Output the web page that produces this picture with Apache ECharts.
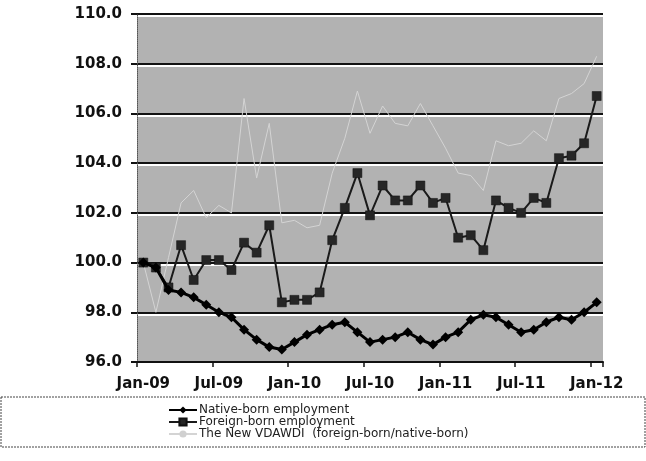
<!DOCTYPE html>
<html>
<head>
<meta charset="utf-8">
<script src="https://cdn.jsdelivr.net/npm/echarts@6/dist/echarts.min.js"></script>
<style>
html,body{margin:0;padding:0;background:#fff;}
#chart{width:646px;height:461px;}
</style>
</head>
<body>
<div id="chart"></div>
<script>
var months = ["Jan-09","Feb-09","Mar-09","Apr-09","May-09","Jun-09","Jul-09","Aug-09","Sep-09","Oct-09","Nov-09","Dec-09",
  "Jan-10","Feb-10","Mar-10","Apr-10","May-10","Jun-10","Jul-10","Aug-10","Sep-10","Oct-10","Nov-10","Dec-10",
  "Jan-11","Feb-11","Mar-11","Apr-11","May-11","Jun-11","Jul-11","Aug-11","Sep-11","Oct-11","Nov-11","Dec-11","Jan-12"];

var nativeBorn = [100.0, 99.8, 98.9, 98.8, 98.6, 98.3, 98.0, 97.8, 97.3, 96.9, 96.6, 96.5,
  96.8, 97.1, 97.3, 97.5, 97.6, 97.2, 96.8, 96.9, 97.0, 97.2, 96.9, 96.7,
  97.0, 97.2, 97.7, 97.9, 97.8, 97.5, 97.2, 97.3, 97.6, 97.8, 97.7, 98.0, 98.4];

var foreignBorn = [100.0, 99.8, 99.0, 100.7, 99.3, 100.1, 100.1, 99.7, 100.8, 100.4, 101.5, 98.4,
  98.5, 98.5, 98.8, 100.9, 102.2, 103.6, 101.9, 103.1, 102.5, 102.5, 103.1, 102.4,
  102.6, 101.0, 101.1, 100.5, 102.5, 102.2, 102.0, 102.6, 102.4, 104.2, 104.3, 104.8, 106.7];

var vdawdi = [100.0, 98.0, 100.2, 102.4, 102.9, 101.8, 102.3, 102.0, 106.6, 103.4, 105.6, 101.6,
  101.7, 101.4, 101.5, 103.6, 105.0, 106.9, 105.2, 106.3, 105.6, 105.5, 106.4, 105.5,
  104.6, 103.6, 103.5, 102.9, 104.9, 104.7, 104.8, 105.3, 104.9, 106.6, 106.8, 107.2, 108.3];

var seriesNames = ["Native-born employment", "Foreign-born employment", "The New VDAWDI  (foreign-born/native-born)"];

var chart = echarts.init(document.getElementById('chart'), null, {renderer: 'canvas'});
var option = {
  animation: false,
  backgroundColor: '#ffffff',
  textStyle: {fontFamily: 'DejaVu Sans'},
  grid: {left: 137, right: 43, top: 14, bottom: 99, show: true, backgroundColor: '#b2b2b2', borderWidth: 0},
  graphic: [{
    type: 'rect',
    z: -1,
    shape: {x: 1, y: 397, width: 644, height: 50},
    style: {fill: '#ffffff', stroke: '#444', lineWidth: 1, lineDash: [2, 1]}
  }],
  legend: {
    orient: 'vertical',
    left: 168,
    top: 404,
    itemWidth: 28,
    itemHeight: 9,
    itemGap: 0,
    padding: 0,
    textStyle: {fontFamily: 'DejaVu Sans', fontSize: 12, lineHeight: 11, color: '#222', padding: [0, 0, 0, -3]},
    data: seriesNames
  },
  xAxis: {
    type: 'category',
    data: months,
    boundaryGap: true,
    axisLine: {lineStyle: {color: '#111', width: 2}},
    axisTick: {show: true, interval: 5, length: 5, lineStyle: {color: '#111', width: 1.5}},
    axisLabel: {interval: 5, margin: 15, color: '#111', fontFamily: 'DejaVu Sans', fontWeight: 'bold', fontSize: 15},
    splitLine: {show: false}
  },
  yAxis: {
    type: 'value',
    min: 96, max: 110, interval: 2,
    axisLine: {show: true, lineStyle: {color: '#555', width: 1, type: 'dotted'}},
    axisTick: {show: true, length: 6, lineStyle: {color: '#111', width: 2}},
    axisLabel: {margin: 15, color: '#111', fontFamily: 'DejaVu Sans', fontWeight: 'bold', fontSize: 15,
      formatter: function (v) { return v.toFixed(1); }},
    splitLine: {show: true, lineStyle: {color: '#111', width: 2, shadowColor: '#ffffff', shadowOffsetY: 2, shadowBlur: 0}}
  },
  series: [
    {
      name: seriesNames[0], type: 'line', data: nativeBorn, z: 4,
      symbol: 'diamond', symbolSize: 10, showSymbol: true, showAllSymbol: true,
      lineStyle: {color: '#000', width: 3},
      itemStyle: {color: '#000'}
    },
    {
      name: seriesNames[1], type: 'line', data: foreignBorn, z: 3,
      symbol: 'rect', symbolSize: 9, showSymbol: true, showAllSymbol: true,
      lineStyle: {color: '#1a1a1a', width: 2},
      itemStyle: {color: '#262626', borderColor: '#111', borderWidth: 0.5}
    },
    {
      name: seriesNames[2], type: 'line', data: vdawdi, z: 2,
      symbol: 'none',
      lineStyle: {color: '#d4d4d4', width: 1},
      itemStyle: {color: '#d0d0d0'}
    }
  ]
};
chart.setOption(option);
</script>
</body>
</html>
